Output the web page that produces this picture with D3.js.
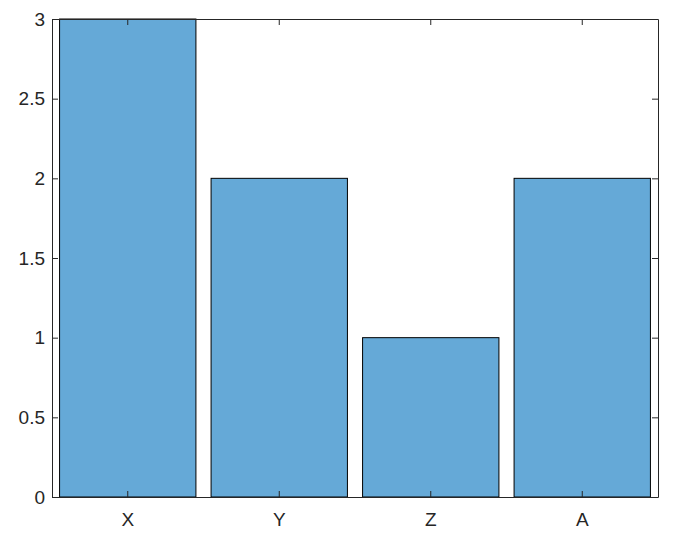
<!DOCTYPE html>
<html><head><meta charset="utf-8">
<script src="https://cdn.jsdelivr.net/npm/d3@7"></script>
<style>body{margin:0;background:#fff}svg{display:block}</style>
</head><body>
<script>
const categories = ["X", "Y", "Z", "A"];
const values = [3, 2, 1, 2];
const yTicks = [0, 0.5, 1, 1.5, 2, 2.5, 3];

const W = 697, H = 537;
const m = {left: 52, right: 39, top: 19, bottom: 40};
const svg = d3.select("body").append("svg").attr("width", W).attr("height", H);
const x = d3.scaleBand().domain(categories).range([m.left, W - m.right]).paddingInner(0.1).paddingOuter(0.05);
const y = d3.scaleLinear().domain([0, 3]).range([H - m.bottom, m.top]);
const ax = "#262626";

svg.append("g").selectAll("rect").data(values).join("rect")
  .attr("x", (d, i) => x(categories[i]))
  .attr("y", d => y(d))
  .attr("width", x.bandwidth())
  .attr("height", d => y(0) - y(d))
  .attr("fill", "#65a9d7").attr("stroke", "#000").attr("stroke-width", 1);

const fmt = d => d3.format("~g")(d);
const font = "'Liberation Sans', Arial, sans-serif";
// left axis
const gl = svg.append("g").attr("transform", `translate(${m.left},0)`)
  .call(d3.axisLeft(y).tickValues(yTicks).tickFormat(fmt).tickSizeInner(-6).tickSizeOuter(0).tickPadding(7));
// right axis
const gr = svg.append("g").attr("transform", `translate(${W - m.right},0)`)
  .call(d3.axisRight(y).tickValues(yTicks).tickFormat("").tickSizeInner(-6).tickSizeOuter(0));
// bottom axis
const gb = svg.append("g").attr("transform", `translate(0,${H - m.bottom})`)
  .call(d3.axisBottom(x).tickSizeInner(-6).tickSizeOuter(0).tickPadding(16));
// top axis
const gt = svg.append("g").attr("transform", `translate(0,${m.top})`)
  .call(d3.axisTop(x).tickFormat("").tickSizeInner(-6).tickSizeOuter(0));

[gl, gr, gb, gt].forEach(g => {
  g.selectAll("path").attr("stroke", ax).attr("stroke-width", 1);
  g.selectAll("line").attr("stroke", ax).attr("stroke-width", 1);
  g.selectAll("text").attr("fill", ax).style("font-family", font).style("font-size", "19px");
});
</script>
</body></html>
